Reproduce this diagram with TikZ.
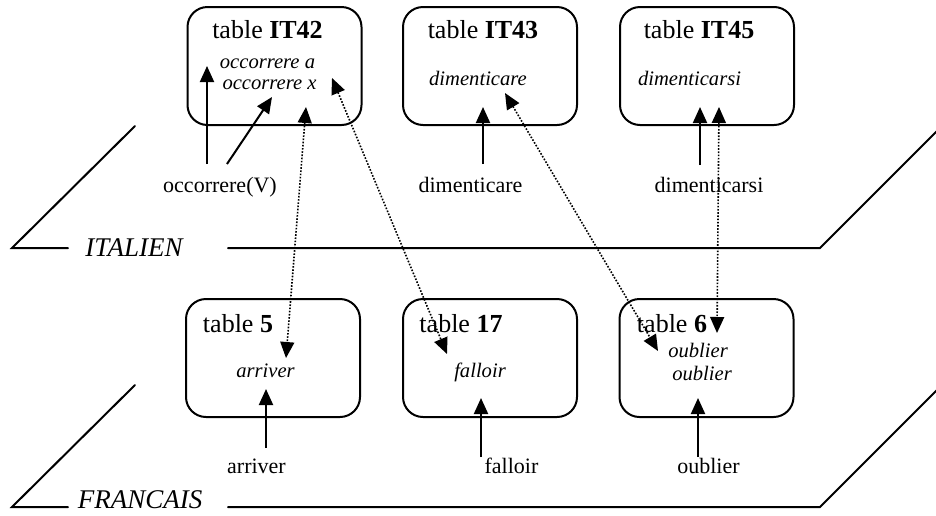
\documentclass[tikz,border=0pt]{standalone}
\usepackage{fontspec}
\setmainfont{Liberation Serif}
\usetikzlibrary{arrows.meta}

\begin{document}
\begin{tikzpicture}[x=0.5pt, y=-0.5pt,
    tabbox/.style={draw, line width=1pt, rounded corners=10pt, minimum width=87pt, minimum height=59pt},
    tabtitle/.style={anchor=base, inner sep=0pt, font=\fontsize{13}{15}\selectfont},
    entry/.style={anchor=base, inner sep=0pt, font=\fontsize{10.3}{12}\selectfont\itshape},
    wordlab/.style={anchor=base, inner sep=0pt, font=\fontsize{11}{13}\selectfont},
    planelab/.style={anchor=base, inner sep=0pt, font=\fontsize{13.5}{16}\selectfont\itshape},
    arr/.style={line width=1pt, -{Triangle[length=8pt, width=7pt]}},
    transarr/.style={line width=0.8pt, dash pattern=on 0.8pt off 0.8pt,
      {Triangle[length=8pt, width=7pt]}-{Triangle[length=8pt, width=7pt]}}]
    \useasboundingbox (0,0) rectangle (936,515);

    % the two planes
    \foreach \y/\lang/\x/\b in {248/ITALIEN/134/256, 507/FRANCAIS/140/508}{
      \draw[line width=1pt, line cap = round] (135,\y-122) -- (12,\y) -- (68,\y);
      \draw[line width=1pt, line cap = round] (228,\y) -- (820,\y) -- (943,\y-123);
      \node[planelab] (plane\lang) at (\x,\b) {\lang};
    }

    % tables
    \foreach \n/\x/\y in {it42/274.5/66, it43/490/66, it45/707/66, fr5/273/358, fr17/490/358, fr6/706.5/358}{
      \node[tabbox] (\n) at (\x,\y) {};
    }
    \node[tabtitle] (it42t) at (267.5,38) {table \textbf{IT42}};
    \node[tabtitle] (it43t) at (483,38) {table \textbf{IT43}};
    \node[tabtitle] (it45t) at (699,38) {table \textbf{IT45}};
    \node[tabtitle] (fr5t) at (238,332) {table \textbf{5}};
    \node[tabtitle] (fr17t) at (461,332) {table \textbf{17}};
    \node[tabtitle] (fr6t) at (672,332) {table \textbf{6}};

    \node[entry] (occa) at (267.5,68) {occorrere a};
    \node[entry] (occx) at (269.5,89) {occorrere x};
    \node[entry] (dimre) at (478,85) {dimenticare};
    \node[entry] (dimsi) at (689.5,85) {dimenticarsi};
    \node[entry] (arrv) at (265.5,377) {arriver};
    \node[entry] (fall) at (480,377) {falloir};
    \node[entry] (oubA) at (698,357) {oublier};
    \node[entry] (oubB) at (702,380) {oublier};

    % words
    \node[wordlab] (wOcc) at (220,192) {occorrere(V)};
    \node[wordlab] (wDimre) at (470.5,192) {dimenticare};
    \node[wordlab] (wDimsi) at (709,192) {dimenticarsi};
    \node[wordlab] (wArr) at (256.5,473) {arriver};
    \node[wordlab] (wFall) at (511.5,473) {falloir};
    \node[wordlab] (wOub) at (708.5,473) {oublier};

    % arrow ends
    \coordinate (sA) at (207,164);   \coordinate (sAt) at (207,66);
    \coordinate (sB) at (227,164);   \coordinate (sBt) at (272,97);
    \coordinate (sC) at (483,164);   \coordinate (sCt) at (483,107);
    \coordinate (sD) at (700,165);   \coordinate (sDt) at (700,107);
    \coordinate (sE) at (266,448);   \coordinate (sEt) at (266,389);
    \coordinate (sF) at (481,457);   \coordinate (sFt) at (481,398);
    \coordinate (sG) at (698,457);   \coordinate (sGt) at (698,398);
    \coordinate (tA) at (306,107);   \coordinate (tAb) at (286,358);
    \coordinate (tB) at (332,78);    \coordinate (tBb) at (447,354);
    \coordinate (tC) at (505,93);    \coordinate (tCb) at (658,351);
    \coordinate (tD) at (719,107);   \coordinate (tDb) at (717,333);

    \foreach \s in {sA,sB,sC,sD,sE,sF,sG}{
      \draw[arr] (\s) -- (\s t);
    }
    \foreach \t in {tA,tB,tC,tD}{
      \draw[transarr] (\t) -- (\t b);
    }
  \end{tikzpicture}
\end{document}
